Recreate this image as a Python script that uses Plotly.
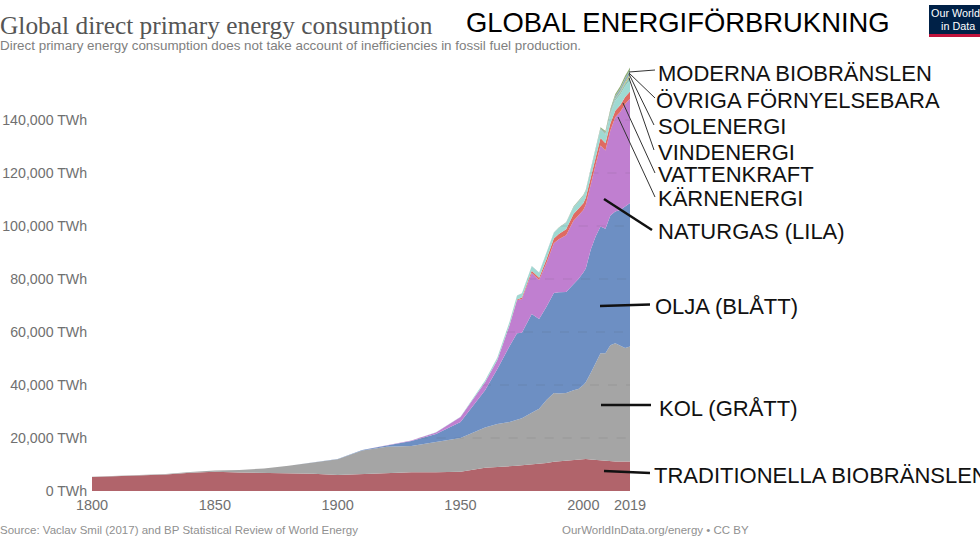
import numpy as np
import plotly.graph_objects as go

# Values (TWh)
years = [1800, 1810, 1820, 1830, 1840, 1850, 1860, 1870, 1880, 1890, 1900, 1910, 1920, 1930, 1940, 1950, 1960,
         1965, 1970, 1973, 1975, 1979, 1982, 1985, 1988, 1990, 1993, 1996, 1998, 2000, 2001, 2003, 2005, 2007,
         2009, 2011, 2013, 2015, 2017, 2019]
traditional = [5300, 5600, 5900, 6200, 6900, 7300, 7000, 6900, 6800, 6500, 6000, 6300, 6800, 7100, 7100, 7300, 8800,
               9000, 9300, 9500, 9700, 10000, 10300, 10600, 11000, 11200, 11500, 11800, 11900, 12100, 12100, 11900,
               11700, 11500, 11300, 11300, 11100, 11100, 11000, 11100]
coal = [50, 100, 150, 200, 250, 400, 900, 1600, 2700, 4200, 6000, 9000, 9900, 9900, 11500, 12700, 15200,
        16300, 16700, 17500, 17800, 19500, 20700, 23700, 26000, 25600, 25500, 26200, 26600, 27900, 28900, 32600,
        36500, 40500, 40700, 43700, 44700, 43900, 43000, 43400]
oil = [0, 0, 0, 0, 0, 0, 0, 0, 0, 0, 50, 200, 600, 1900, 2900, 6000, 14000,
       20700, 28700, 32500, 32200, 37300, 33900, 35200, 37700, 38200, 38100, 40000, 41500, 42500, 43000, 46500,
       47800, 47800, 47000, 49000, 49700, 51000, 53500, 54200]
gas = [0, 0, 0, 0, 0, 0, 0, 0, 0, 0, 0, 0, 50, 200, 600, 1900, 3000,
       3400, 7900, 12500, 12800, 15500, 14700, 16500, 18800, 20000, 21400, 24000, 24000, 23500, 24000, 25000,
       27000, 30600, 29500, 32000, 35500, 37000, 38500, 39300]
nuclear = [0, 0, 0, 0, 0, 0, 0, 0, 0, 0, 0, 0, 0, 0, 0, 0, 0,
           30, 100, 300, 500, 800, 900, 1500, 1800, 2000, 2300, 2500, 2500, 2600, 2650, 2700,
           2800, 2800, 2700, 2700, 2500, 2600, 2650, 2800]
hydro = [0, 0, 0, 0, 0, 0, 0, 0, 0, 0, 0, 0, 0, 0, 50, 100, 700,
         900, 1200, 1400, 1500, 1700, 1800, 2000, 2100, 2200, 2350, 2500, 2600, 2650, 2600, 2700,
         3000, 3100, 3250, 3500, 3800, 3900, 4050, 4200]
wind = [0] * 29 + [30, 40, 100, 100, 200, 300, 500, 700, 900, 1100, 1430]
solar = [0] * 33 + [10, 20, 80, 150, 300, 500, 720]
other = [0] * 17 + [50, 60, 70, 80, 100, 110, 120, 140, 150, 160, 180, 190, 200, 210, 250, 300, 400, 500, 700, 900,
                    1100, 1400, 1600]
biofuels = [0] * 25 + [100, 120, 150, 170, 190, 200, 220, 260, 400, 600, 700, 800, 900, 1000, 1100]

series_names = ["Traditional biofuels", "Coal", "Oil", "Natural gas", "Nuclear", "Hydropower",
                "Wind", "Solar", "Other renewables", "Modern biofuels"]
series_values = [traditional, coal, oil, gas, nuclear, hydro, wind, solar, other, biofuels]
series_colors = ["#b1646b", "#a5a5a5", "#6d8fc3", "#c07fd0", "#df6a62", "#9fd9d2",
                 "#8fc4b8", "#c9bb6a", "#8fb0b8", "#8fae78"]

y_ticks = [0, 20000, 40000, 60000, 80000, 100000, 120000, 140000]
y_tick_labels = ["0 TWh", "20,000 TWh", "40,000 TWh", "60,000 TWh", "80,000 TWh", "100,000 TWh", "120,000 TWh",
                 "140,000 TWh"]
x_ticks = [1800, 1850, 1900, 1950, 2000, 2019]

label_texts = ["MODERNA BIOBRÄNSLEN", "ÖVRIGA FÖRNYELSEBARA", "SOLENERGI", "VINDENERGI", "VATTENKRAFT",
               "KÄRNENERGI", "NATURGAS (LILA)", "OLJA (BLÅTT)", "KOL (GRÅTT)", "TRADITIONELLA BIOBRÄNSLEN"]
label_pos = [(657, 74), (655, 100), (657, 127), (657, 152), (657, 174),
             (657, 198), (657, 232), (654, 306), (658, 408), (653, 475)]
leaders = [(629, 72, 655, 70, 1), (629, 73, 655, 98, 1), (629, 74, 654, 125, 1), (629, 78, 654, 150, 1),
           (623, 103, 655, 173, 1), (618, 117, 655, 197, 1), (604, 199, 652, 230, 2.5),
           (600, 306, 650, 304.5, 2.5), (601, 405, 651, 405, 2.5), (604, 471, 650, 473, 2.5)]

W, H = 980, 551
L, R, T, B = 92, 350, 67, 60
FONT = "Liberation Sans"


def px(x):
    return (x - L) / (W - L - R)


def py(y):
    return 1 - (y - T) / (H - T - B)


fig = go.Figure()
for name, vals, color in zip(series_names, series_values, series_colors):
    fig.add_trace(go.Scatter(x=years, y=vals, name=name, mode="lines", stackgroup="one",
                             line=dict(color=color, width=0), fillcolor=color, hoverinfo="skip"))

# faint dashed gridlines, only where the area covers them
total = np.maximum.accumulate(np.sum(series_values, axis=0))
for level in y_ticks[1:]:
    start = float(np.interp(level, total, years))
    fig.add_shape(type="line", xref="x", yref="y", x0=start, x1=2019, y0=level, y1=level,
                  line=dict(color="rgba(60,60,60,0.13)", width=1, dash="dash"), layer="above")

for x0, y0, x1, y1, w in leaders:
    fig.add_shape(type="line", xref="paper", yref="paper", x0=px(x0), y0=py(y0), x1=px(x1), y1=py(y1),
                  line=dict(color="#111111" if w > 1 else "#333333", width=w), layer="above")


def add_text(text, x, y, size, color, family=FONT):
    fig.add_annotation(text=text, xref="paper", yref="paper", x=px(x), y=py(y), xanchor="left", yanchor="middle",
                       showarrow=False, borderpad=0, font=dict(family=family, size=size, color=color))


for text, (x, y) in zip(label_texts, label_pos):
    add_text(text, x, y, 22, "#111111")

add_text("Global direct primary energy consumption", -1, 24.5, 25.4, "#555555", family="Liberation Serif")
add_text("Direct primary energy consumption does not take account of inefficiencies in fossil fuel production.",
         -1, 46, 13.4, "#808080")
add_text("GLOBAL ENERGIFÖRBRUKNING", 465, 23, 27.4, "#000000")
add_text("Source: Vaclav Smil (2017) and BP Statistical Review of World Energy", -1, 530, 11.5, "#909090")
add_text("OurWorldInData.org/energy • CC BY", 561, 530, 11.5, "#909090")

# logo
fig.add_shape(type="rect", xref="paper", yref="paper", x0=px(929), x1=px(981), y0=py(5), y1=py(34),
              fillcolor="#002147", line_width=0, layer="above")
fig.add_shape(type="rect", xref="paper", yref="paper", x0=px(929), x1=px(981), y0=py(34), y1=py(37),
              fillcolor="#c0143c", line_width=0, layer="above")
add_text("Our World", 930, 13, 10.8, "#ffffff")
add_text("in Data", 940, 26, 10.8, "#ffffff")

fig.update_layout(
    width=W, height=H, autosize=False,
    margin=dict(l=L, r=R, t=T, b=B),
    paper_bgcolor="white", plot_bgcolor="white",
    showlegend=False,
    font=dict(family=FONT, color="#666666"),
    xaxis=dict(range=[1800, 2019], tickvals=x_ticks, showgrid=False, zeroline=False, showline=False, automargin=False,
               ticks="outside", ticklen=1, tickcolor="rgba(0,0,0,0)", tickfont=dict(size=14.5, color="#707070")),
    yaxis=dict(range=[0, 160000], tickvals=y_ticks, ticktext=y_tick_labels, showgrid=False, automargin=False,
               zeroline=False, showline=False, ticks="outside", ticklen=1, tickcolor="rgba(0,0,0,0)",
               tickfont=dict(size=14.2, color="#707070")),
)

# drop the browser's default body margin so the figure fills the window
fig.write_html("out.html", config={"displayModeBar": False}, post_script="document.body.style.margin = '0';")
